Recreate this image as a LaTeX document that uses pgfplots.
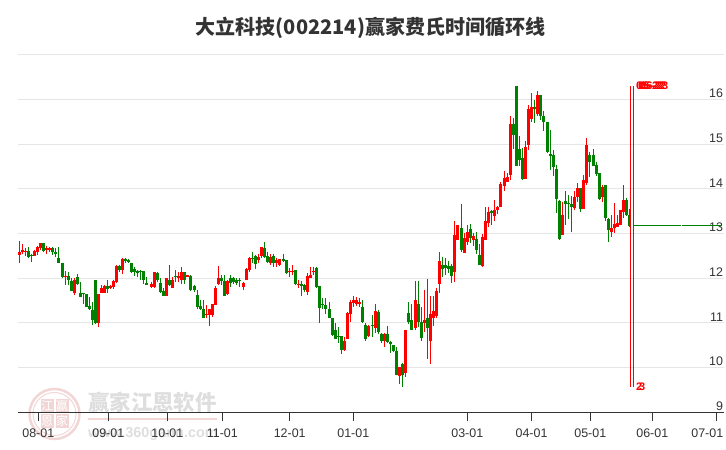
\documentclass[border=0pt]{standalone}
\usepackage{fontspec}
\setmainfont{Liberation Sans}
\newfontfamily\cjk{Noto Sans CJK SC}
\usepackage{pgfplots}
\usepackage{pgfplotstable}
\pgfplotsset{compat=1.18}
\definecolor{upred}{HTML}{FF0000}
\definecolor{downgreen}{HTML}{008000}
\definecolor{txt}{HTML}{333333}
\definecolor{gridgray}{HTML}{E6E6E6}
\definecolor{wmred}{HTML}{F2D6D6}
\definecolor{wmgray}{HTML}{DEDEDE}

% x: position along the time axis, h: high, t: body top, b: body bottom, l: low
\pgfplotstableread{
x h t b l
19.3 12.83 12.58 12.52 12.35
22.3 12.76 12.63 12.58 12.55
25.3 12.67 12.61 12.58 12.49
34.3 12.64 12.61 12.50 12.49
37.3 12.72 12.69 12.59 12.53
40.3 12.79 12.78 12.67 12.63
46.3 12.73 12.67 12.63 12.55
49.3 12.70 12.67 12.63 12.58
65.3 12.16 12.06 12.02 11.85
74.3 12.00 11.97 11.67 11.62
98.3 11.64 11.64 10.99 10.91
101.3 11.85 11.77 11.67 11.66
104.3 11.85 11.83 11.67 11.66
110.3 11.85 11.82 11.79 11.76
113.3 11.97 11.93 11.81 11.75
116.3 12.29 12.27 11.92 11.90
122.3 12.46 12.42 12.18 12.09
151.3 11.92 11.88 11.81 11.79
154.3 12.14 12.13 11.81 11.79
166.3 12.00 12.00 11.60 11.60
172.3 12.03 11.97 11.78 11.77
178.3 12.14 12.05 12.00 11.92
181.3 12.26 12.14 11.97 11.88
187.3 12.08 12.07 12.03 12.02
206.3 11.40 11.21 11.19 11.10
209.3 11.32 11.31 11.17 10.93
212.3 11.43 11.42 11.17 11.14
215.3 11.82 11.79 11.41 11.40
218.3 12.27 12.00 11.87 11.85
227.3 11.97 11.93 11.64 11.62
243.3 11.92 11.90 11.81 11.73
246.3 12.22 12.20 11.97 11.96
249.3 12.48 12.46 12.18 12.14
258.3 12.55 12.48 12.40 12.33
261.3 12.70 12.69 12.49 12.46
270.3 12.55 12.48 12.33 12.29
276.3 12.46 12.40 12.35 12.24
279.3 12.44 12.43 12.29 12.27
289.3 12.22 12.17 12.14 12.02
292.3 12.29 12.17 12.16 12.08
298.3 11.97 11.88 11.86 11.77
307.3 12.11 12.06 11.70 11.62
310.3 12.26 12.08 12.00 12.00
313.3 12.26 12.16 12.14 12.07
344.3 10.69 10.59 10.39 10.37
347.3 11.25 11.23 10.65 10.63
350.3 11.52 11.46 11.19 11.02
353.3 11.60 11.52 11.45 11.36
356.3 11.57 11.51 11.43 11.38
359.3 11.55 11.47 11.42 11.35
368.3 10.95 10.94 10.70 10.69
375.3 11.42 11.26 10.89 10.78
384.3 10.78 10.76 10.60 10.45
399.3 10.02 10.01 9.82 9.64
405.3 10.85 10.85 9.88 9.78
415.3 11.93 11.51 10.88 10.85
424.3 11.73 11.06 11.00 10.80
430.3 11.60 11.20 10.59 10.07
433.3 11.60 11.26 11.12 10.93
436.3 11.79 11.71 11.15 11.12
439.3 12.58 12.38 11.87 11.66
454.3 13.28 12.97 12.14 11.92
457.3 13.19 13.19 12.86 12.86
464.3 13.00 12.89 12.57 12.57
467.3 13.19 13.03 12.82 12.74
473.3 13.00 12.95 12.86 12.71
482.3 12.99 12.93 12.28 12.26
485.3 13.60 13.28 12.86 12.86
488.3 13.60 13.47 13.24 13.15
494.3 13.75 13.53 13.40 13.29
497.3 13.62 13.60 13.53 13.44
500.3 14.16 14.11 13.60 13.60
504.3 14.40 14.25 14.07 13.96
507.3 14.35 14.27 14.16 14.16
510.3 15.63 15.45 14.31 14.20
525.3 15.07 14.93 14.23 14.21
528.3 15.88 15.78 14.98 14.87
531.3 16.14 15.82 15.56 15.50
537.3 16.19 16.10 15.68 15.62
562.3 13.71 13.41 12.97 12.97
574.3 13.94 13.81 13.58 13.53
577.3 14.12 14.01 13.81 13.71
583.3 14.30 14.20 13.54 13.54
586.3 15.13 14.98 14.14 14.09
602.3 14.09 14.05 13.81 13.71
611.3 13.41 13.12 13.04 12.93
614.3 13.68 13.21 13.12 13.00
617.3 13.41 13.24 13.14 13.14
620.3 13.53 13.53 13.19 13.19
623.3 14.09 13.75 13.49 13.34
}\redbars

\pgfplotstableread{
x h t b l
28.3 12.69 12.61 12.48 12.46
31.3 12.55 12.53 12.49 12.37
43.3 12.78 12.78 12.61 12.59
52.3 12.69 12.67 12.58 12.53
55.3 12.67 12.58 12.55 12.48
58.3 12.69 12.45 12.35 12.35
62.3 12.35 12.35 12.02 12.01
68.3 12.14 12.06 11.96 11.85
71.3 12.00 11.93 11.71 11.71
77.3 12.09 12.03 11.86 11.85
80.3 11.92 11.67 11.58 11.58
83.3 11.67 11.66 11.64 11.43
86.3 11.64 11.64 11.36 11.35
89.3 11.57 11.38 11.30 11.29
92.3 11.47 11.29 11.06 10.95
95.3 11.97 11.97 10.99 10.97
107.3 11.96 11.82 11.76 11.67
119.3 12.29 12.27 12.18 12.14
125.3 12.46 12.42 12.39 12.35
128.3 12.44 12.40 12.37 12.33
131.3 12.35 12.33 12.14 12.11
134.3 12.26 12.20 12.13 12.05
137.3 12.18 12.17 12.11 12.02
140.3 12.18 12.16 12.13 11.97
143.3 12.17 12.16 11.96 11.88
146.3 12.03 11.90 11.85 11.85
157.3 12.14 12.11 11.97 11.92
160.3 12.00 11.90 11.70 11.67
163.3 11.77 11.71 11.60 11.60
169.3 12.29 11.97 11.85 11.82
175.3 12.18 12.05 12.02 11.92
184.3 12.14 12.14 11.97 11.88
190.3 12.07 12.05 11.73 11.72
194.3 11.85 11.83 11.73 11.70
197.3 11.73 11.62 11.35 11.32
200.3 11.51 11.38 11.31 11.29
203.3 11.51 11.32 11.11 11.10
221.3 12.07 12.00 11.93 11.85
224.3 12.08 11.93 11.60 11.60
230.3 12.07 12.01 11.90 11.81
233.3 12.03 12.01 11.92 11.88
236.3 12.00 11.97 11.90 11.85
239.3 12.00 11.97 11.94 11.81
252.3 12.58 12.46 12.42 12.33
255.3 12.53 12.49 12.32 12.20
264.3 12.81 12.67 12.48 12.46
267.3 12.59 12.49 12.37 12.35
273.3 12.55 12.49 12.33 12.26
283.3 12.55 12.44 12.39 12.37
286.3 12.40 12.40 12.12 12.09
295.3 12.18 12.18 11.86 11.85
301.3 11.94 11.88 11.83 11.61
304.3 11.88 11.85 11.73 11.68
316.3 12.26 12.23 11.81 11.79
319.3 11.82 11.82 11.34 11.00
322.3 11.55 11.43 11.41 11.32
325.3 11.55 11.39 11.30 11.21
329.3 11.47 11.30 11.12 11.11
332.3 11.10 11.10 10.74 10.71
335.3 10.99 10.84 10.65 10.63
338.3 10.90 10.70 10.69 10.54
341.3 10.70 10.70 10.39 10.30
362.3 11.51 11.35 11.02 10.99
365.3 10.99 10.96 10.63 10.60
372.3 11.17 10.95 10.94 10.69
378.3 11.29 11.24 10.79 10.76
381.3 10.78 10.76 10.60 10.55
387.3 10.93 10.76 10.58 10.55
390.3 10.60 10.58 10.52 10.32
393.3 10.50 10.50 10.38 10.35
396.3 10.47 10.38 9.83 9.83
402.3 10.11 10.07 9.83 9.57
408.3 11.47 11.23 11.02 10.97
411.3 11.42 11.06 10.84 10.84
418.3 11.93 11.42 11.02 10.91
421.3 11.36 11.02 10.67 10.59
427.3 11.98 11.12 10.89 10.19
442.3 12.48 12.29 12.20 12.02
445.3 12.46 12.29 12.22 12.07
448.3 12.39 12.27 12.20 12.11
451.3 12.31 12.27 12.05 11.90
461.3 13.66 13.12 12.62 12.59
470.3 13.21 13.09 12.89 12.78
476.3 13.04 12.88 12.62 12.54
479.3 12.77 12.52 12.30 12.30
491.3 13.53 13.50 13.45 13.18
513.3 15.58 15.45 15.21 14.88
516.3 16.30 16.30 14.51 14.50
519.3 15.18 14.88 14.65 14.50
522.3 14.91 14.70 14.22 14.20
534.3 15.99 15.84 15.78 15.47
540.3 16.10 16.10 15.62 15.54
543.3 15.75 15.63 15.50 15.30
547.3 15.50 15.50 14.83 14.81
550.3 15.32 14.77 14.74 14.42
553.3 14.87 14.76 14.48 14.29
556.3 14.53 14.44 13.77 13.45
559.3 13.74 13.73 12.88 12.86
565.3 13.96 13.73 13.65 13.19
568.3 13.86 13.69 13.65 13.32
571.3 13.84 13.66 13.60 13.04
580.3 14.01 14.01 13.54 13.47
589.3 14.83 14.76 14.61 14.27
593.3 14.89 14.76 14.52 14.50
596.3 14.61 14.53 14.33 14.29
599.3 14.35 14.35 13.77 13.75
605.3 14.09 14.09 13.34 13.27
608.3 13.34 13.33 13.08 12.82
626.3 13.80 13.75 13.41 13.40
629.3 13.54 13.41 13.17 13.15
}\greenbars

\pgfplotsset{
  wick/.style={draw=none, mark=none, forget plot, error bars/.cd, y dir=minus, y explicit,
    error mark=none, error bar style={line width=1.1bp, color=#1}},
  body/.style={draw=none, mark=none, forget plot, error bars/.cd, y dir=minus, y explicit,
    error mark=none, error bar style={line width=3bp, color=#1}},
}

\begin{document}
\begin{tikzpicture}[x=1bp,y=1bp]
\useasboundingbox (0,0) rectangle (726,450);

% watermark
\draw[wmred, line width=2.5bp] (54.5,36) circle (25);
\draw[wmred, line width=1bp] (54.5,36) circle (21.5);
\fill[wmred] (40.5,37.5) rectangle (54,51);
\fill[wmred] (55.5,37.5) rectangle (69,51);
\fill[wmred] (40.5,22) rectangle (54,36);
\fill[wmred] (55.5,22) rectangle (69,36);
\node[white, font=\cjk\fontsize{12}{12}\selectfont, inner sep=0pt] at (47.2,44.2) {江};
\node[white, font=\cjk\fontsize{12}{12}\selectfont, inner sep=0pt] at (62.2,44.2) {赢};
\node[white, font=\cjk\fontsize{12}{12}\selectfont, inner sep=0pt] at (47.2,29) {恩};
\node[white, font=\cjk\fontsize{12}{12}\selectfont, inner sep=0pt] at (62.2,29) {家};
\node[wmgray, font=\cjk\bfseries\fontsize{21.5}{22}\selectfont, inner sep=0pt, anchor=west] at (88,47.5) {赢家江恩软件};
\fill[wmred] (88,30) rectangle (217,32);
\node[wmgray, font=\bfseries\fontsize{14.5}{15}\selectfont, inner sep=0pt, anchor=west] at (88,16) {www.360gann.com};

\node[txt, font=\cjk\bfseries\fontsize{20.1}{22}\selectfont, inner sep=0pt] at (370.5,422.3) {大立科技(002214)赢家费氏时间循环线};

\begin{axis}[
  at={(18bp,37.7bp)}, anchor=south west,
  scale only axis, width=706bp, height=357.6bp,
  xmin=18, xmax=724, ymin=9, ymax=17,
  axis x line=bottom, axis y line=right,
  axis line style={-},
  x axis line style={color=txt, line width=1bp},
  y axis line style={draw=none},
  tick align=outside,
  xtick={38.3,108.3,167.3,222.3,289.7,353.3,467.3,531.5,590.3,652.3,716.3},
  xticklabels={08-01,09-01,10-01,11-01,12-01,01-01,03-01,04-01,05-01,06-01,\makebox[0pt]{\hspace{-18bp}07-01}},
  ytick={9,10,11,12,13,14,15,16},
  extra y ticks={17}, extra y tick labels={},
  extra tick style={grid=major, tick style={draw=none}},
  ymajorgrids,
  grid style={color=gridgray, line width=1bp},
  xtick style={color=txt, line width=1bp},
  major tick length=9bp,
  ytick style={draw=none},
  tick label style={color=txt, font=\fontsize{12.5}{14}\selectfont},
  /pgf/number format/assume math mode=true,
  yticklabel style={anchor=south east, inner sep=0pt, xshift=-9.8bp, yshift=1.5bp},
  xticklabel style={inner sep=0pt, yshift=-7.5bp},
]
\addplot[wick=downgreen] table[x=x, y=h, y error minus expr=\thisrow{h}-\thisrow{l}] {\greenbars};
\addplot[body=downgreen] table[x=x, y=t, y error minus expr=\thisrow{t}-\thisrow{b}] {\greenbars};
\addplot[wick=upred] table[x=x, y=h, y error minus expr=\thisrow{h}-\thisrow{l}] {\redbars};
\addplot[body=upred] table[x=x, y=t, y error minus expr=\thisrow{t}-\thisrow{b}] {\redbars};

% time cycle lines
\addplot[upred, line width=1bp, forget plot] coordinates {(630.3,9.57) (630.3,16.30)};
\addplot[upred, line width=1bp, forget plot] coordinates {(633.3,9.57) (633.3,16.30)};

% last close
\addplot[downgreen, line width=1bp, dash pattern=on 2.5bp off 0.5bp, forget plot] coordinates {(634,13.18) (681,13.18)};
\addplot[downgreen, line width=1bp, dash pattern=on 2.5bp off 0.5bp, forget plot] coordinates {(682,13.18) (722,13.18)};

\node[upred, font=\bfseries\fontsize{11}{12}\selectfont, inner sep=0pt, anchor=west] at (axis cs:636,16.30) {05-22};
\node[upred, font=\bfseries\fontsize{11}{12}\selectfont, inner sep=0pt, anchor=west] at (axis cs:638,16.30) {05-22};
\node[upred, font=\bfseries\fontsize{11}{12}\selectfont, inner sep=0pt, anchor=west] at (axis cs:640,16.30) {06-23};
\node[upred, font=\bfseries\fontsize{11}{12}\selectfont, inner sep=0pt, anchor=west] at (axis cs:636,9.57) {2};
\node[upred, font=\bfseries\fontsize{11}{12}\selectfont, inner sep=0pt, anchor=west] at (axis cs:639,9.57) {3};
\end{axis}
\end{tikzpicture}
\end{document}
